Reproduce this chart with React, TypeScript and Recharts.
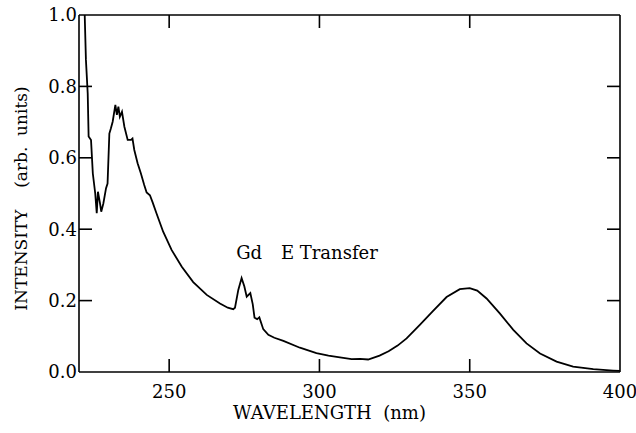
import React from 'react';
import { LineChart, Line, XAxis, YAxis, ReferenceDot, ReferenceLine } from 'recharts';

const wavelengths = [
  221.9, 222.3, 222.9, 223.2, 224.0, 224.6, 225.4, 225.9, 226.3, 227.0, 227.4, 228.1, 229.0, 229.5,
  230.1, 230.6, 231.2, 232.1, 232.6, 233.1, 233.6, 234.3, 235.1, 236.2, 237.3, 237.8, 238.4,
  239.5, 240.6, 241.7, 242.5, 243.6, 244.5, 245.8, 248.0, 250.8, 254.2, 258.0, 262.5, 266.9,
  269.5, 271.3, 271.9, 273.0, 274.1, 275.0, 275.8, 277.0, 277.8, 278.4, 279.3, 280.0, 281.3, 283.0,
  285.0, 288.0, 293.5, 299.0, 303.0, 306.8, 310.7, 313.5, 316.2, 320.0, 323.0, 326.0, 329.0, 333.4,
  337.9, 342.3, 346.7, 350.0, 352.5, 355.6, 360.0, 364.5, 368.9, 373.4, 378.9, 384.4, 391.1, 397.7, 400.0,
];
const intensity = [
  1.0, 0.875, 0.78, 0.66, 0.65, 0.556, 0.5, 0.445, 0.505, 0.472, 0.449, 0.472, 0.515, 0.528,
  0.668, 0.682, 0.701, 0.748, 0.72, 0.743, 0.715, 0.729, 0.687, 0.65, 0.65, 0.654, 0.622,
  0.585, 0.556, 0.524, 0.503, 0.495, 0.475, 0.444, 0.393, 0.342, 0.295, 0.252, 0.216, 0.192,
  0.18, 0.176, 0.18, 0.23, 0.263, 0.24, 0.211, 0.221, 0.19, 0.152, 0.148, 0.153, 0.12, 0.104,
  0.096, 0.087, 0.068, 0.053, 0.046, 0.041, 0.036, 0.037, 0.035, 0.046, 0.058, 0.074, 0.094, 0.132,
  0.172, 0.21, 0.232, 0.235, 0.228, 0.206, 0.164, 0.118, 0.08, 0.052, 0.029, 0.015, 0.008, 0.004, 0.003,
];

const xTicks = [250, 300, 350, 400];
const xTopTicks = [250, 300, 350];
const yTicks = [0, 0.2, 0.4, 0.6, 0.8, 1.0];
const yRightTicks = [0.2, 0.4, 0.6, 0.8];
const xTitle = 'WAVELENGTH\u00a0\u00a0(nm)';
const yTitle = 'INTENSITY\u00a0\u00a0\u00a0\u00a0(arb.\u00a0\u00a0units)';
const annotation1 = 'Gd';
const annotation2 = 'E Transfer';

const X_MIN = 220;
const X_MAX = 400;
const Y_MIN = 0;
const Y_MAX = 1;

const data = wavelengths.map((nm, i) => ({ nm, v: intensity[i] }));

const FONT = 'DejaVu Serif';
const tickStyle = { fontFamily: FONT, fontSize: 18, fill: '#000' };

// inward tick length, expressed as a fraction of each axis span (13px of 541px / 357px)
const TICK_X = ((X_MAX - X_MIN) * 13) / 541;
const TICK_Y = ((Y_MAX - Y_MIN) * 13) / 357;

const SW = 1.6;

export default function App() {
  const tickLines: React.ReactNode[] = [];
  xTicks.forEach((t) => {
    if (t < X_MAX) {
      tickLines.push(
        <ReferenceLine
          key={`xb${t}`}
          xAxisId="b"
          yAxisId="l"
          segment={[{ x: t, y: Y_MIN }, { x: t, y: Y_MIN + TICK_Y }]}
          stroke="#000"
          strokeWidth={SW}
          ifOverflow="visible"
        />
      );
    }
  });
  xTopTicks.forEach((t) => {
    tickLines.push(
      <ReferenceLine
        key={`xt${t}`}
        xAxisId="b"
        yAxisId="l"
        segment={[{ x: t, y: Y_MAX }, { x: t, y: Y_MAX - TICK_Y }]}
        stroke="#000"
        strokeWidth={SW}
        ifOverflow="visible"
      />
    );
  });
  yTicks.forEach((t) => {
    if (t > Y_MIN && t < Y_MAX) {
      tickLines.push(
        <ReferenceLine
          key={`yl${t}`}
          xAxisId="b"
          yAxisId="l"
          segment={[{ x: X_MIN, y: t }, { x: X_MIN + TICK_X, y: t }]}
          stroke="#000"
          strokeWidth={SW}
          ifOverflow="visible"
        />
      );
    }
  });
  yRightTicks.forEach((t) => {
    tickLines.push(
      <ReferenceLine
        key={`yr${t}`}
        xAxisId="b"
        yAxisId="l"
        segment={[{ x: X_MAX, y: t }, { x: X_MAX - TICK_X, y: t }]}
        stroke="#000"
        strokeWidth={SW}
        ifOverflow="visible"
      />
    );
  });

  return (
    <div style={{ position: 'absolute', left: 0, top: 0, background: '#fff' }}>
      <LineChart width={636} height={433} data={data} margin={{ top: 15, right: 16, bottom: 0, left: 0 }}>
        <XAxis
          xAxisId="b"
          dataKey="nm"
          type="number"
          domain={[X_MIN, X_MAX]}
          ticks={xTicks}
          allowDataOverflow
          height={61}
          tickLine={false}
          tickSize={0}
          tickMargin={13}
          stroke="#000"
          strokeWidth={SW}
          tick={tickStyle}
          label={{
            content: (p: any) => {
              const vb = p.viewBox;
              return (
                <text x={vb.x + vb.width / 2 - 20} y={419} textAnchor="middle" fontFamily={FONT} fontSize={18} fill="#000">
                  {xTitle}
                </text>
              );
            },
          }}
        />
        <YAxis
          yAxisId="l"
          type="number"
          domain={[Y_MIN, Y_MAX]}
          ticks={yTicks}
          allowDataOverflow
          width={79}
          tickLine={false}
          tickSize={0}
          tickMargin={2}
          stroke="#000"
          strokeWidth={SW}
          tick={tickStyle}
          tickFormatter={(v: number) => v.toFixed(1)}
          label={{
            content: (p: any) => {
              const vb = p.viewBox;
              const cy = vb.y + vb.height / 2 + 5;
              return (
                <text
                  x={21}
                  y={cy}
                  transform={`rotate(-90, 21, ${cy})`}
                  textAnchor="middle"
                  dominantBaseline="central"
                  fontFamily={FONT}
                  fontSize={17}
                  fill="#000"
                >
                  {yTitle}
                </text>
              );
            },
          }}
        />
        <ReferenceLine xAxisId="b" yAxisId="l" y={Y_MAX} stroke="#000" strokeWidth={SW} ifOverflow="visible" />
        <ReferenceLine xAxisId="b" yAxisId="l" x={X_MAX} stroke="#000" strokeWidth={SW} ifOverflow="visible" />
        {tickLines}
        <ReferenceDot
          xAxisId="b"
          yAxisId="l"
          x={276.6}
          y={0.335}
          r={0}
          fill="none"
          stroke="none"
          label={{ value: annotation1, position: 'center', fontFamily: FONT, fontSize: 18, fill: '#000' }}
        />
        <ReferenceDot
          xAxisId="b"
          yAxisId="l"
          x={303.3}
          y={0.335}
          r={0}
          fill="none"
          stroke="none"
          label={{ value: annotation2, position: 'center', fontFamily: FONT, fontSize: 18, fill: '#000' }}
        />
        <Line
          xAxisId="b"
          yAxisId="l"
          type="linear"
          dataKey="v"
          stroke="#000"
          strokeWidth={1.8}
          dot={false}
          isAnimationActive={false}
        />
      </LineChart>
    </div>
  );
}
